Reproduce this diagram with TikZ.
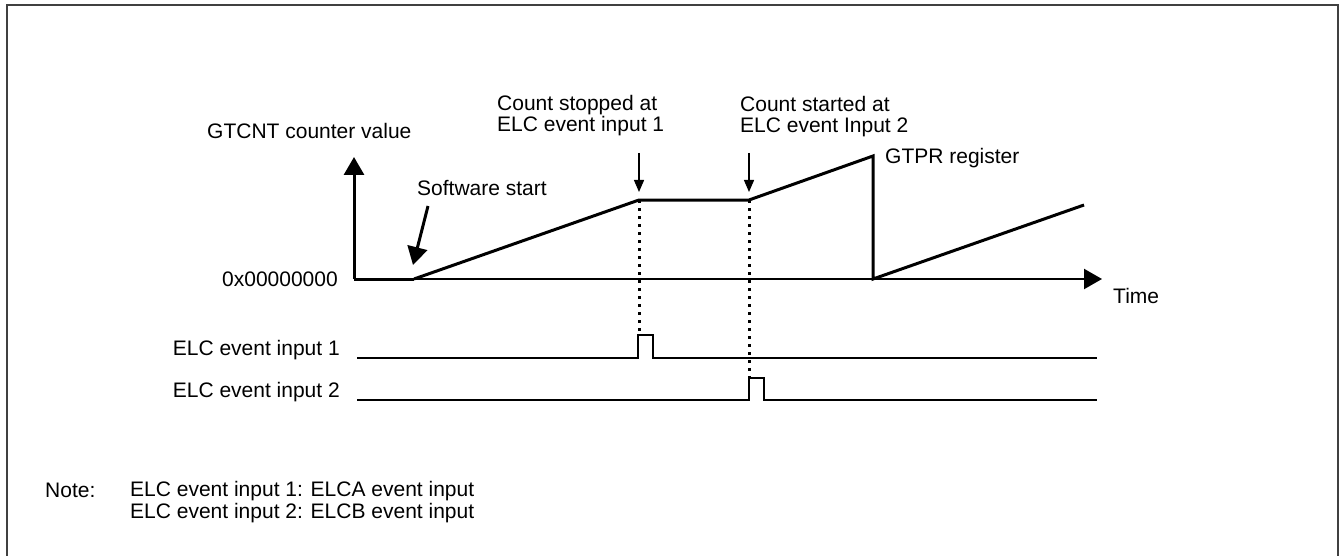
\documentclass[tikz,border=0pt]{standalone}
\usepackage{fontspec}
\setmainfont{Liberation Sans}
\usetikzlibrary{arrows.meta}

\begin{document}
\begin{tikzpicture}[x=1pt,y=-1pt,font=\fontsize{21}{21.5}\selectfont,
   sig/.style={line width=3pt,line join=miter},
   ax/.style={line width=2.2pt},
   wave/.style={line width=1.4pt},
   dots/.style={line width=3pt,dash pattern=on 3pt off 5pt},
   lbl/.style={inner sep=0pt,anchor=base west},
   big/.style={-{Triangle[length=18pt,width=20pt]}},
   small/.style={line width=1.4pt,-{Triangle[length=12pt,width=10pt]}}]
\useasboundingbox (0,0) rectangle (1340,556);
%% ---- frame ----
\draw[line width=2pt,black!75] (7,556) -- (7,5) -- (1338,5) -- (1338,556);
%% ---- counter axes ----
\coordinate (o) at (354,279);
\coordinate (ytop) at (354,157);
\coordinate (sw) at (414,279);
\coordinate (xend) at (1102,279);
\draw[ax,big] (sw) -- (xend);
\draw[sig,big] (o) -- (ytop);
\draw[sig] (o) -- (sw);
%% ---- GTCNT count ----
\coordinate (k1) at (639,200);
\coordinate (k2) at (749,200);
\coordinate (pk) at (873,156);
\coordinate (rs) at (873,279);
\coordinate (k3) at (1084,205);
\draw[sig] (sw) -- (k1) -- (k2) -- (pk) -- (rs) -- (k3);
\draw[dots] (k1) -- ++(0,135);
\draw[dots] (k2) -- ++(0,178);
\draw[small] ([yshift=47pt]k1) -- ([yshift=8pt]k1);
\draw[small] ([yshift=47pt]k2) -- ([yshift=8pt]k2);
\coordinate (swtail) at (428,206);
\draw[sig,big] (swtail) -- ([xshift=-1pt,yshift=14pt]sw);
%% ---- ELC event inputs ----
\coordinate (ev1s) at (357,358);
\coordinate (ev1e) at (1097,358);
\coordinate (ev2s) at (357,400);
\coordinate (ev2e) at (1097,400);
\draw[wave] (ev1s) -- ++(281,0) -- ++(0,-23) -- ++(15,0) -- ++(0,23) -- (ev1e);
\draw[wave] (ev2s) -- ++(392,0) -- ++(0,-22) -- ++(15,0) -- ++(0,22) -- (ev2e);
%% ---- labels ----
\node[lbl] (gtcnt) at (207,139) {GTCNT counter value};
\node[lbl,anchor=base east] (zero) at (338,286) {0x00000000};
\node[lbl] (time) at (1113,303) {Time};
\node[lbl] (sws) at (417,195) {Software start};
\node[lbl,align=left] (stop) at (497,132) {Count stopped at\\ELC event input 1};
\node[lbl,align=left] (start) at (740,133) {Count started at\\ELC event Input 2};
\node[lbl] (gtpr) at (885,164) {GTPR register};
\node[lbl,anchor=base east] (ev1) at (340,355) {ELC event input 1};
\node[lbl,anchor=base east] (ev2) at (340,397) {ELC event input 2};
\node[lbl] (note) at (45,497) {Note:};
\node[lbl,align=left] (notes) at (130,518) {ELC event input 1: ELCA event input\\ELC event input 2: ELCB event input};
\end{tikzpicture}
\end{document}
